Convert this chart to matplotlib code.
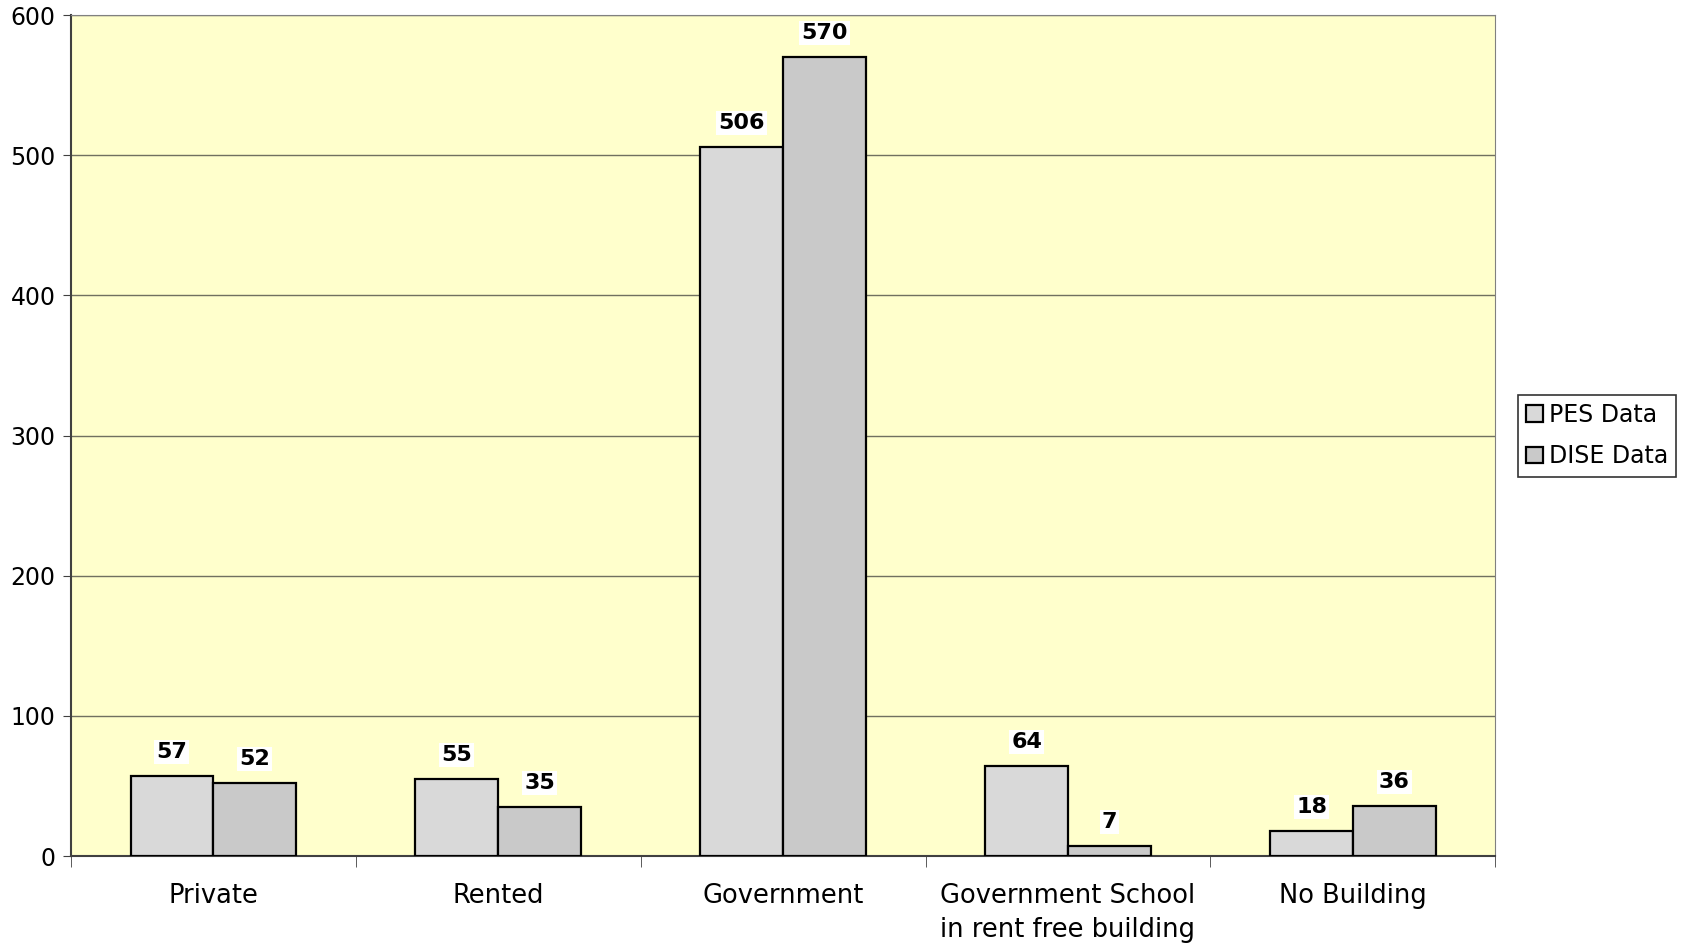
import numpy as np
import matplotlib.pyplot as plt

categories = ['Private', 'Rented', 'Government', 'Government School\nin rent free building', 'No Building']
pes_data = [57, 55, 506, 64, 18]
dise_data = [52, 35, 570, 7, 36]

plt.rcParams['font.family'] = ['DejaVu Sans']

fig = plt.figure(figsize=(16.84, 9.46), dpi=100)
ax = fig.add_axes([0.042, 0.095, 0.846, 0.889])
ax.set_facecolor('#ffffcc')

x = np.arange(len(categories))
w = 0.29
b1 = ax.bar(x - w / 2, pes_data, w, color='#d9d9d9', edgecolor='black', linewidth=1.6,
            label='PES Data', zorder=3)
b2 = ax.bar(x + w / 2, dise_data, w, color='#c9c9c9', edgecolor='black', linewidth=1.6,
            label='DISE Data', zorder=3)

for bars, vals in ((b1, pes_data), (b2, dise_data)):
    for r, v in zip(bars, vals):
        ax.text(r.get_x() + r.get_width() / 2, v + 10, str(v), ha='center', va='bottom',
                fontsize=16, fontweight='bold', zorder=4,
                bbox=dict(facecolor='white', edgecolor='none', pad=1.5))

ax.set_xlim(-0.5, len(categories) - 0.5)
ax.set_ylim(0, 600)
ax.set_yticks(range(0, 601, 100))
ax.yaxis.grid(True, color='#707060', linewidth=1.0, zorder=0)
ax.set_axisbelow(True)

ax.set_xticks(x)
ax.set_xticklabels(categories, fontsize=18.5, linespacing=1.4)
ax.tick_params(axis='x', length=0, pad=19)
ax.set_xticks(np.arange(-0.5, len(categories), 1), minor=True)
ax.tick_params(axis='x', which='minor', length=8, color='#404040')
ax.tick_params(axis='y', labelsize=17, length=6, color='#404040', pad=5)

for s in ('top', 'right'):
    ax.spines[s].set_color('#808080')
ax.spines['left'].set_color('#404040')
ax.spines['bottom'].set_color('#404040')
ax.spines['left'].set_linewidth(1.5)
ax.spines['bottom'].set_linewidth(1.5)

leg = ax.legend(loc='center left', bbox_to_anchor=(1.016, 0.5), fontsize=17, frameon=True,
                fancybox=False, edgecolor='black', handlelength=0.7, handleheight=0.7,
                handletextpad=0.25, borderpad=0.35, labelspacing=0.75, borderaxespad=0)
leg.get_frame().set_linewidth(1.2)

fig.savefig('out.png', dpi=100, facecolor='white')
